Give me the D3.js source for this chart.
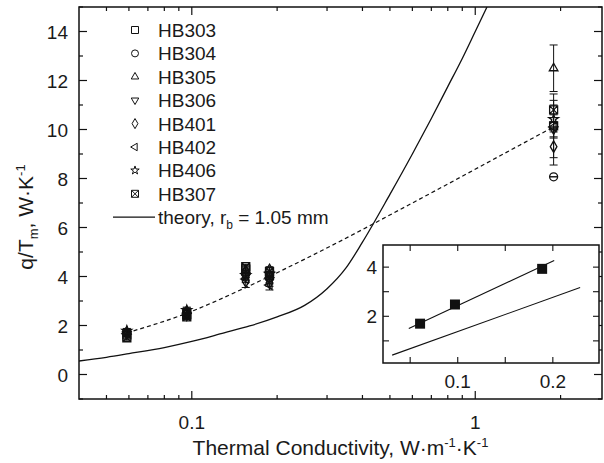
<!DOCTYPE html>
<html>
<head>
<meta charset="utf-8">
<script src="https://cdn.jsdelivr.net/npm/d3@7"></script>
<style>
  body { margin: 0; background: #fff; }
  svg { display: block; }
  text { font-family: "Liberation Sans", Arial, sans-serif; fill: #1a1a1a; }
</style>
</head>
<body>
<div id="chart"></div>
<script>
// ---- data ----
const conductivity = [0.059, 0.096, 0.155, 0.188, 1.89]

const HB303 = [1.62, 2.45, 4.30, 4.05, 10.15]
const HB304 = [1.72, 2.55, 4.10, 3.95, 8.07]
const HB305 = [1.75, 2.60, 4.25, 4.30, 12.5]
const HB306 = [1.65, 2.40, 4.00, 3.85, 10.0]
const HB401 = [1.70, 2.50, 3.80, 3.75, 9.30]
const HB402 = [1.68, 2.42, 3.90, 3.65, 10.1]
const HB406 = [1.78, 2.62, 4.05, 4.10, 10.42]
const HB307 = [1.50, 2.35, 4.40, 4.20, 10.8]

const errHB303 = [0.10, 0.10, 0.10, 0.15, 1.30]
const errHB304 = [0.10, 0.10, 0.15, 0.10, 0.00]
const errHB305 = [0.10, 0.15, 0.10, 0.10, 0.95]
const errHB306 = [0.10, 0.10, 0.15, 0.15, 0.30]
const errHB401 = [0.10, 0.10, 0.25, 0.15, 0.75]
const errHB402 = [0.10, 0.10, 0.15, 0.20, 0.20]
const errHB406 = [0.10, 0.10, 0.10, 0.10, 0.77]
const errHB307 = [0.10, 0.10, 0.10, 0.10, 0.20]

// dashed fit through the data
const fitX = [0.059, 0.096, 0.155, 0.29, 0.6, 1.44, 1.85]
const fitY = [1.70, 2.50, 3.55, 5.08, 7.0, 9.37, 10.05]

// theory, r_b = 1.05 mm
const theoryX = [0.04, 0.05, 0.06, 0.08, 0.1, 0.13, 0.16, 0.2, 0.25, 0.3, 0.35, 0.4, 0.5, 0.6, 0.7, 0.8, 0.9, 1.0, 1.1]
const theoryY = [0.55, 0.70, 0.85, 1.10, 1.35, 1.70, 1.98, 2.35, 2.82, 3.5, 4.35, 5.4, 7.35, 9.0, 10.45, 11.75, 12.9, 14.0, 15.0]

// inset
const insetX = [0.076, 0.098, 0.185]
const insetY = [1.70, 2.48, 3.93]
const insetFitX = [0.070, 0.202]
const insetFitY = [1.50, 4.27]
const insetTheoryX = [0.062, 0.244]
const insetTheoryY = [0.42, 3.17]

const xMajor = [0.1, 1]
const xMinor = [0.05, 0.06, 0.07, 0.08, 0.09, 0.2, 0.3, 0.4, 0.5, 0.6, 0.7, 0.8, 0.9, 2]
const yMajor = [0, 2, 4, 6, 8, 10, 12, 14]
const yMinor = [-1, 1, 3, 5, 7, 9, 11, 13, 15]
const insetXTicks = [0.0707, 0.1, 0.1414, 0.2]
const insetXLabels = [0.1, 0.2]
const insetYTicks = [1, 2, 3, 4]
const insetYLabels = [2, 4]

const series = [
    { name: "HB303", shape: "square", y: HB303, e: errHB303 },
    { name: "HB304", shape: "circle", y: HB304, e: errHB304 },
    { name: "HB305", shape: "triUp", y: HB305, e: errHB305 },
    { name: "HB306", shape: "triDown", y: HB306, e: errHB306 },
    { name: "HB401", shape: "diamond", y: HB401, e: errHB401 },
    { name: "HB402", shape: "triLeft", y: HB402, e: errHB402 },
    { name: "HB406", shape: "star", y: HB406, e: errHB406 },
    { name: "HB307", shape: "squareX", y: HB307, e: errHB307 },
]

// ---- layout ----
const width = 604, height = 463
const plot = { left: 79, right: 602, top: 7, bottom: 399 }
const box = { left: 383, right: 599, top: 245, bottom: 363 }

const x = d3.scaleLog().domain([0.04, 2.8]).range([plot.left, plot.right])
const y = d3.scaleLinear().domain([-1, 15]).range([plot.bottom, plot.top])
const ix = d3.scaleLog().domain([0.058, 0.28]).range([box.left, box.right])
const iy = d3.scaleLinear().domain([0.1, 4.9]).range([box.bottom, box.top])

const svg = d3.select("#chart").append("svg")
    .attr("width", width)
    .attr("height", height)

function symbolPath(shape, s) {
    const sym = (t, area) => d3.symbol(t, area)()
    switch (shape) {
        case "square": return sym(d3.symbolSquare, s * s)
        case "circle": return sym(d3.symbolCircle, Math.PI * s * s / 4)
        case "triUp": case "triDown": case "triLeft": return sym(d3.symbolTriangle, s * s * 0.5)
        case "diamond": return sym(d3.symbolDiamond, s * s * 0.6)
        case "star": return sym(d3.symbolStar, s * s * 0.45)
        case "squareX": {
            const h = s / 2
            return sym(d3.symbolSquare, s * s) + `M${-h},${-h}L${h},${h}M${-h},${h}L${h},${-h}`
        }
    }
}
const rot = { triDown: 180, triLeft: -90 }

function drawMarker(g, shape, cx, cy, s, sw) {
    g.append("path")
        .attr("d", symbolPath(shape, s))
        .attr("transform", `translate(${cx},${cy}) rotate(${rot[shape] || 0})`)
        .attr("fill", "none")
        .attr("stroke", "#111")
        .attr("stroke-width", sw)
}

// ---- main axes ----
function ticks(g, scale, values, len, orient, pos) {
    values.forEach(v => {
        const p = scale(v)
        if (orient === "bottom") g.append("line").attr("x1", p).attr("x2", p).attr("y1", pos).attr("y2", pos - len)
        if (orient === "top") g.append("line").attr("x1", p).attr("x2", p).attr("y1", pos).attr("y2", pos + len)
        if (orient === "left") g.append("line").attr("y1", p).attr("y2", p).attr("x1", pos).attr("x2", pos + len)
        if (orient === "right") g.append("line").attr("y1", p).attr("y2", p).attr("x1", pos).attr("x2", pos - len)
    })
}

const axes = svg.append("g").attr("stroke", "#111").attr("stroke-width", 1.2)
ticks(axes, x, xMajor, 8, "bottom", plot.bottom)
ticks(axes, x, xMinor, 4, "bottom", plot.bottom)
ticks(axes, x, xMajor, 8, "top", plot.top)
ticks(axes, x, xMinor, 4, "top", plot.top)
ticks(axes, y, yMajor, 8, "left", plot.left)
ticks(axes, y, yMinor, 4, "left", plot.left)
ticks(axes, y, yMajor, 8, "right", plot.right)
ticks(axes, y, yMinor, 4, "right", plot.right)

svg.append("rect")
    .attr("x", plot.left).attr("y", plot.top)
    .attr("width", plot.right - plot.left).attr("height", plot.bottom - plot.top)
    .attr("fill", "none").attr("stroke", "#111").attr("stroke-width", 1.5)

svg.append("g").selectAll("text").data(xMajor).join("text")
    .attr("x", d => x(d)).attr("y", 429)
    .attr("text-anchor", "middle").attr("font-size", 19)
    .text(d => d)

svg.append("g").selectAll("text").data(yMajor).join("text")
    .attr("x", 68).attr("y", d => y(d) + 7)
    .attr("text-anchor", "end").attr("font-size", 19)
    .text(d => d)

// axis titles
const xt = svg.append("text")
    .attr("x", (plot.left + plot.right) / 2).attr("y", 455)
    .attr("text-anchor", "middle").attr("font-size", 21)
xt.append("tspan").text("Thermal Conductivity, W\u00b7m")
xt.append("tspan").attr("dy", -8).attr("font-size", 13).text("-1")
xt.append("tspan").attr("dy", 8).text("\u00b7K")
xt.append("tspan").attr("dy", -8).attr("font-size", 13).text("-1")

const yt = svg.append("text")
    .attr("transform", `translate(33,${(plot.top + plot.bottom) / 2 + 14}) rotate(-90)`)
    .attr("text-anchor", "middle").attr("font-size", 21)
yt.append("tspan").text("q/T")
yt.append("tspan").attr("dy", 5).attr("font-size", 13).text("m")
yt.append("tspan").attr("dy", -5).text(", W\u00b7K")
yt.append("tspan").attr("dy", -8).attr("font-size", 13).text("-1")

// ---- curves ----
const clip = svg.append("clipPath").attr("id", "clip")
clip.append("rect").attr("x", plot.left).attr("y", plot.top)
    .attr("width", plot.right - plot.left).attr("height", plot.bottom - plot.top)

const curves = svg.append("g").attr("clip-path", "url(#clip)")
const line = d3.line().x(d => x(d[0])).y(d => y(d[1])).curve(d3.curveMonotoneX)

curves.append("path")
    .attr("d", line(d3.zip(theoryX, theoryY)))
    .attr("fill", "none").attr("stroke", "#111").attr("stroke-width", 1.3)

curves.append("path")
    .attr("d", line(d3.zip(fitX, fitY)))
    .attr("fill", "none").attr("stroke", "#111").attr("stroke-width", 1.2)
    .attr("stroke-dasharray", "4,3")

// ---- error bars and markers ----
const marks = svg.append("g")
series.forEach(s => {
    conductivity.forEach((c, i) => {
        const cx = x(c), v = s.y[i], e = s.e[i]
        const eb = marks.append("g").attr("stroke", "#111").attr("stroke-width", 1)
        eb.append("line").attr("x1", cx).attr("x2", cx).attr("y1", y(v - e)).attr("y2", y(v + e))
        eb.append("line").attr("x1", cx - 4).attr("x2", cx + 4).attr("y1", y(v - e)).attr("y2", y(v - e))
        eb.append("line").attr("x1", cx - 4).attr("x2", cx + 4).attr("y1", y(v + e)).attr("y2", y(v + e))
        drawMarker(marks, s.shape, cx, y(v), 8, 1.3)
    })
})

// ---- legend ----
const legend = svg.append("g")
series.forEach((s, i) => {
    const ly = 30 + i * 23.4
    drawMarker(legend, s.shape, 135, ly, 7, 1)
    legend.append("text").attr("x", 158).attr("y", ly + 7).attr("font-size", 19).text(s.name)
})
{
    const ly = 30 + 8 * 23.4
    legend.append("line").attr("x1", 113).attr("x2", 155).attr("y1", ly).attr("y2", ly)
        .attr("stroke", "#111").attr("stroke-width", 1.3)
    const t = legend.append("text").attr("x", 158).attr("y", ly + 7).attr("font-size", 19)
    t.append("tspan").text("theory, r")
    t.append("tspan").attr("dy", 5).attr("font-size", 12).text("b")
    t.append("tspan").attr("dy", -5).text(" = 1.05 mm")
}

// ---- inset ----
const inset = svg.append("g")
inset.append("rect")
    .attr("x", box.left).attr("y", box.top)
    .attr("width", box.right - box.left).attr("height", box.bottom - box.top)
    .attr("fill", "#fff").attr("stroke", "#111").attr("stroke-width", 1.5)

const iax = inset.append("g").attr("stroke", "#111").attr("stroke-width", 1.1)
ticks(iax, ix, insetXTicks, 6, "bottom", box.bottom)
ticks(iax, ix, insetXTicks, 6, "top", box.top)
ticks(iax, iy, insetYTicks, 6, "left", box.left)
ticks(iax, iy, insetYTicks, 6, "right", box.right)

inset.selectAll("text.ixl").data(insetXLabels).join("text")
    .attr("x", d => ix(d)).attr("y", box.bottom + 25)
    .attr("text-anchor", "middle").attr("font-size", 19).text(d => d)
inset.selectAll("text.iyl").data(insetYLabels).join("text")
    .attr("x", box.left - 6).attr("y", d => iy(d) + 7)
    .attr("text-anchor", "end").attr("font-size", 19).text(d => d)

const iline = d3.line().x(d => ix(d[0])).y(d => iy(d[1]))
inset.append("path").attr("d", iline(d3.zip(insetFitX, insetFitY)))
    .attr("fill", "none").attr("stroke", "#111").attr("stroke-width", 1.1)
inset.append("path").attr("d", iline(d3.zip(insetTheoryX, insetTheoryY)))
    .attr("fill", "none").attr("stroke", "#111").attr("stroke-width", 1.1)

inset.selectAll("rect.pt").data(d3.zip(insetX, insetY)).join("rect")
    .attr("x", d => ix(d[0]) - 5).attr("y", d => iy(d[1]) - 5)
    .attr("width", 10).attr("height", 10)
    .attr("fill", "#111")
</script>
</body>
</html>
